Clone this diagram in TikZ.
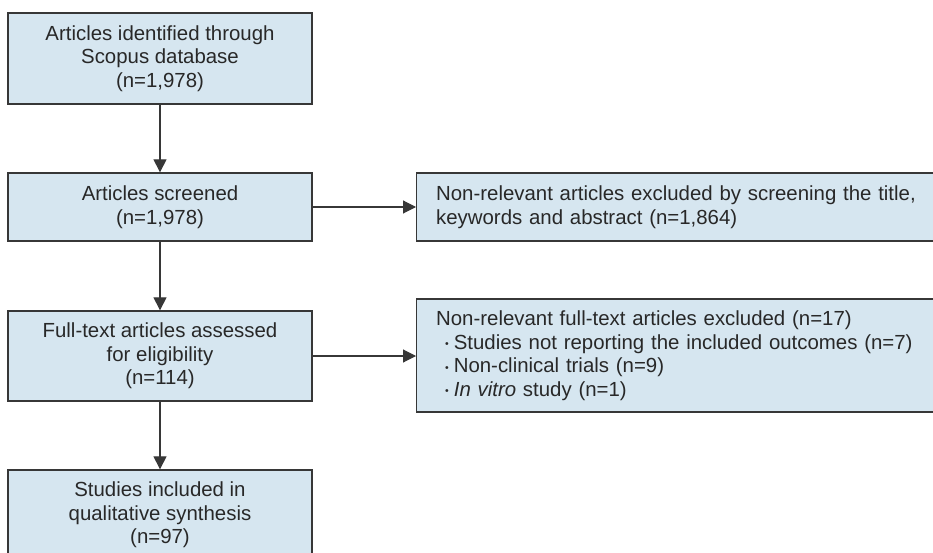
\documentclass[tikz,border=0pt]{standalone}
\usepackage{fontspec}
\setmainfont{Liberation Sans}
\usetikzlibrary{arrows.meta}
\definecolor{boxfill}{RGB}{214,230,240}
\definecolor{boxline}{RGB}{55,55,55}
\definecolor{txt}{RGB}{40,40,40}
\newcommand{\bul}{\hspace*{9pt}\raisebox{1.2pt}{\fontsize{10.5}{10.5}\selectfont •}\hspace*{5pt}}
\begin{document}
\begin{tikzpicture}[x=1pt,y=-1pt,
  box/.style={draw=boxline,fill=boxfill,line width=1.3pt,rectangle,text=txt,
    font=\fontsize{20.4}{23.5}\selectfont,inner sep=0pt},
  cbox/.style={box,align=center,minimum width=304pt},
  rbox/.style={box,align=left,anchor=west,minimum width=530pt,text width=491pt,inner xsep=19pt},
  arr/.style={draw=boxline,line width=1.1pt,-{Triangle[width=13pt,length=13pt]}}]
\useasboundingbox (0,0) rectangle (933,553);
\clip (0,0) rectangle (933,553);
\node[cbox,minimum height=91pt] (b1) at (160,58.5) {Articles identified through\\Scopus database\\(n=1,978)};
\node[cbox,minimum height=68pt] (b2) at (160,207) {Articles screened\\(n=1,978)};
\node[cbox,minimum height=90pt] (b3) at (160,356) {Full-text articles assessed\\for eligibility\\(n=114)};
\node[cbox,minimum height=90pt] (b4) at (160,515) {Studies included in\\qualitative synthesis\\(n=97)};
\node[rbox,minimum height=68pt] (r1) at (416,207) {Non-relevant articles excluded by screening the title,\\keywords and abstract (n=1,864)};
\node[rbox,minimum height=113pt] (r2) at (416,355.5) {Non-relevant full-text articles excluded (n=17)\\
\bul Studies not reporting the included outcomes (n=7)\\
\bul Non-clinical trials (n=9)\\
\bul\textit{In vitro} study (n=1)};
\draw[arr] (b1) -- (b2);
\draw[arr] (b2) -- (b3);
\draw[arr] (b3) -- (b4);
\draw[arr] (b2.east) -- (r1.west);
\draw[arr] (b3.east) -- (b3.east -| r2.west);
\end{tikzpicture}
\end{document}
